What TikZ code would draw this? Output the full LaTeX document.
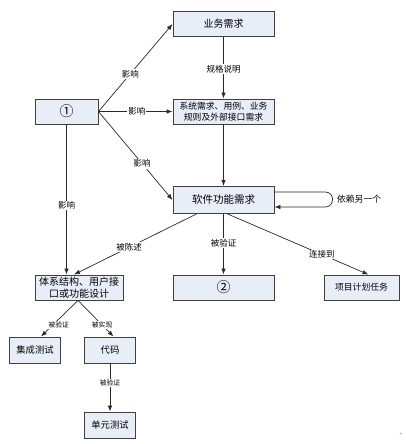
\documentclass[tikz,border=0pt]{standalone}
\usepackage{fontspec}
\setmainfont{Noto Sans CJK SC}
\usetikzlibrary{arrows.meta,positioning}
\definecolor{boxblue}{HTML}{E8EEF8}
\definecolor{linegray}{HTML}{2A2A2A}

\tikzset{
  reqbox/.style={draw=black!75,fill=boxblue,line width=0.9pt,minimum height=25pt,inner sep=1pt,align=center,font=\fontsize{10}{12}\selectfont},
  link/.style={-{Latex[length=6pt,width=4.5pt]},draw=linegray,line width=0.7pt},
  lbl/.style={fill=white,inner sep=1pt,font=\fontsize{8.5}{10}\selectfont},
  smalllbl/.style={fill=white,inner sep=0.8pt,font=\fontsize{6.8}{8}\selectfont}
}

\begin{document}
\begin{tikzpicture}[x=1pt,y=-1pt]
  \fill[white] (0,0) rectangle (405,444);
  \useasboundingbox (0,0) rectangle (405,444);
  % top row
  \node[reqbox,minimum width=101pt] (biz) at (223.5,24) {业务需求};
  \node[reqbox,minimum width=101pt,font=\fontsize{8.8}{10.6}\selectfont] (sysreq) at (223.5,111.5) {系统需求、用例、业务\\规则及外部接口需求};
  \node[reqbox,minimum width=63pt,font=\fontsize{14}{16}\selectfont] (one) at (66.5,111.5) {①};
  \node[reqbox,minimum width=101pt,minimum height=27pt,font=\fontsize{10.5}{12}\selectfont] (swreq) at (223.5,200) {软件功能需求};
  % middle row
  \node[reqbox,minimum width=88pt,font=\fontsize{10}{12.6}\selectfont] (arch) at (79,287.5) {体系结构、用户接\\口或功能设计};
  \node[reqbox,minimum width=101pt,font=\fontsize{14}{16}\selectfont] (two) at (223.5,287.5) {②};
  \node[reqbox,minimum width=75pt,font=\fontsize{8.8}{10}\selectfont] (plan) at (361.5,287.5) {项目计划任务};
  % bottom
  \node[reqbox,minimum width=51pt,minimum height=26pt,font=\fontsize{9.3}{11}\selectfont] (itest) at (35,350) {集成测试};
  \node[reqbox,minimum width=51pt,minimum height=26pt,font=\fontsize{9.3}{11}\selectfont] (code) at (110,350) {代码};
  \node[reqbox,minimum width=51pt,minimum height=26pt,font=\fontsize{9.3}{11}\selectfont] (utest) at (110,425) {单元测试};

  % links
  \draw[link] (one.east) -- node[lbl,pos=0.43] {影响} (biz.west);
  \draw[link] (one.east) -- node[lbl,pos=0.52] {影响} (sysreq.west);
  \draw[link] (one.east) -- node[lbl,pos=0.59] {影响} (swreq.west);
  \draw[link] (one.south) -- node[lbl,pos=0.54] {影响} (one.south |- arch.north);
  \draw[link] (biz.south) -- node[lbl,pos=0.52] {规格说明} (sysreq.north);
  \draw[link] (sysreq.south) -- (swreq.north);
  \draw[link,rounded corners=7pt] ([yshift=8pt]swreq.east) -- ++(58,0)
    -- node[right=1pt,font=\fontsize{8.8}{10}\selectfont] {依赖另一个} ++(0,15) -- ([yshift=-7pt]swreq.east);
  \draw[link] ([xshift=-27pt]swreq.south) -- node[lbl,pos=0.55] {被陈述} ([xshift=-5pt]arch.north);
  \draw[link] (swreq.south) -- node[lbl,pos=0.48] {被验证} (two.north);
  \draw[link] ([xshift=4pt]swreq.south) -- node[lbl,pos=0.67] {连接到} ([xshift=7pt]plan.north);
  \draw[link] ([xshift=-1pt]arch.south) -- node[smalllbl,pos=0.68,xshift=6pt] {被验证} ([xshift=6pt]itest.north);
  \draw[link] ([xshift=-1pt]arch.south) -- node[smalllbl,pos=0.68] {被实现} ([xshift=3.5pt]code.north);
  \draw[link] (code.south) -- node[smalllbl,pos=0.41] {被验证} (utest.north);

  \node[text=black!40,font=\fontsize{6}{6}\selectfont] (mark) at (401,435) {+};
\end{tikzpicture}
\end{document}
